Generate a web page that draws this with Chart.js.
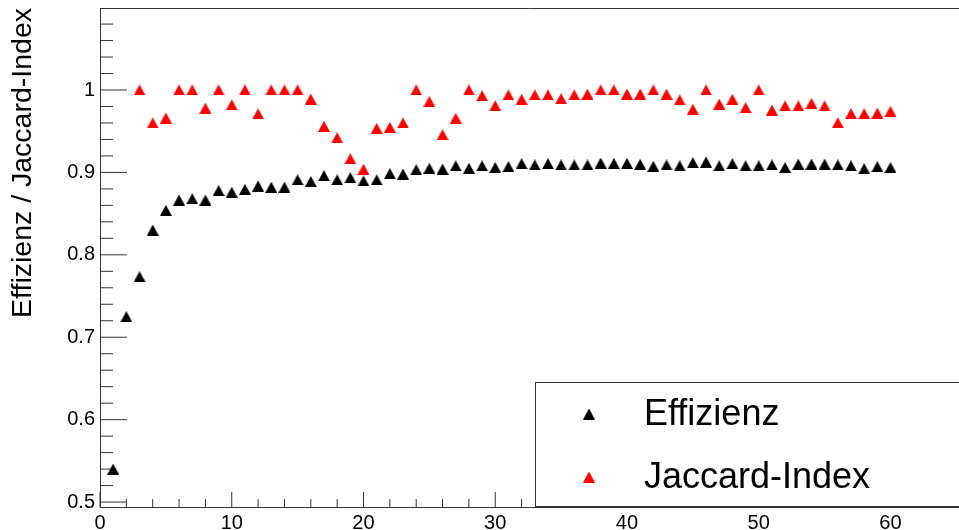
<!DOCTYPE html>
<html>
<head>
<meta charset="utf-8">
<script src="https://cdn.jsdelivr.net/npm/chart.js@4.4.1/dist/chart.umd.min.js"></script>
<style>
    html, body { margin: 0; padding: 0; background: #fff; }
    #plot { display: block; }
</style>
</head>
<body>
<canvas id="plot" width="959" height="530"></canvas>
<script>
// run number 1..60
const runs = [
    1, 2, 3, 4, 5, 6, 7, 8, 9, 10, 11, 12, 13, 14, 15, 16, 17, 18, 19, 20,
    21, 22, 23, 24, 25, 26, 27, 28, 29, 30, 31, 32, 33, 34, 35, 36, 37, 38, 39, 40,
    41, 42, 43, 44, 45, 46, 47, 48, 49, 50, 51, 52, 53, 54, 55, 56, 57, 58, 59, 60
];
const effizienz = [
    0.540, 0.725, 0.7735, 0.830, 0.854, 0.8665, 0.868, 0.8665, 0.878, 0.876,
    0.8795, 0.8835, 0.882, 0.882, 0.891, 0.889, 0.896, 0.891, 0.8936, 0.8896,
    0.891, 0.8985, 0.898, 0.9033, 0.905, 0.904, 0.908, 0.905, 0.908, 0.906,
    0.907, 0.9106, 0.909, 0.9106, 0.909, 0.909, 0.909, 0.9114, 0.911, 0.911,
    0.9098, 0.9074, 0.909, 0.908, 0.9118, 0.9126, 0.908, 0.9106, 0.908, 0.908,
    0.909, 0.906, 0.910, 0.910, 0.910, 0.909, 0.908, 0.9045, 0.907, 0.906
];
const jaccard = [
    null, null, 1.0, 0.960, 0.966, 1.0, 1.0, 0.978, 1.0, 0.982,
    1.0, 0.971, 1.0, 1.0, 1.0, 0.989, 0.956, 0.942, 0.9166, 0.9038,
    0.9535, 0.9547, 0.960, 1.0, 0.986, 0.9458, 0.9656, 1.0, 0.993, 0.981,
    0.994, 0.9887, 0.994, 0.994, 0.9895, 0.994, 0.995, 1.0, 1.0, 0.995,
    0.995, 1.0, 0.995, 0.988, 0.9766, 1.0, 0.983, 0.9887, 0.9786, 1.0,
    0.9757, 0.9806, 0.9806, 0.9838, 0.9806, 0.9603, 0.9713, 0.9713, 0.972, 0.974
];
const seriesNames = ['Effizienz', 'Jaccard-Index'];
const seriesColors = ['#000000', '#ff0000'];
const xTicks = [0, 10, 20, 30, 40, 50, 60];
const yTicks = [0.5, 0.6, 0.7, 0.8, 0.9, 1];
const yTitle = 'Effizienz / Jaccard-Index';

const FONT = "'Liberation Sans', Arial, Helvetica, sans-serif";
Chart.defaults.font.family = FONT;
Chart.defaults.color = '#000';

// filled up-triangle marker, centred on its bounding box
function triangle(color) {
    const c = document.createElement('canvas');
    c.width = 12; c.height = 11;
    const g = c.getContext('2d');
    g.fillStyle = color;
    g.beginPath();
    g.moveTo(6, 0);
    g.lineTo(12, 11);
    g.lineTo(0, 11);
    g.closePath();
    g.fill();
    return c;
}

function points(values) {
    return runs.map((r, i) => ({ x: r, y: values[i] }));
}

const keepTicks = list => scale => {
    scale.ticks = list.map(v => ({ value: v }));
};

// top frame edge plus inward ticks (minor every 2 / 0.02)
const frame = {
    id: 'frame',
    beforeDatasetsDraw(chart) {
        const { ctx, chartArea: a, scales: { x, y } } = chart;
        ctx.save();
        ctx.strokeStyle = '#333';
        ctx.lineWidth = 1;
        ctx.beginPath();
        ctx.moveTo(a.left, a.top + 0.5);
        ctx.lineTo(a.right, a.top + 0.5);
        for (let k = 25; k < 55; k++) {
            const py = y.getPixelForValue(k / 50);
            if (py < a.top) break;
            const len = k % 5 === 0 ? 27 : 13;
            ctx.moveTo(a.left, py);
            ctx.lineTo(a.left + len, py);
        }
        for (let k = 0; k <= 32; k++) {
            const px = x.getPixelForValue(k * 2);
            if (px > a.right) break;
            const len = k % 5 === 0 ? 15 : 8;
            ctx.moveTo(px, a.bottom);
            ctx.lineTo(px, a.bottom - len);
        }
        ctx.stroke();
        ctx.restore();
    }
};

// boxed legend in the lower right corner
const legendBox = {
    id: 'legendBox',
    afterDatasetsDraw(chart) {
        const { ctx, chartArea: a } = chart;
        const left = 535.5, top = 382.5;
        ctx.save();
        ctx.fillStyle = '#fff';
        ctx.fillRect(left, top, a.right - left + 5, a.bottom - top);
        ctx.strokeStyle = '#333';
        ctx.lineWidth = 1;
        ctx.strokeRect(left, top, a.right - left + 5, a.bottom - top - 0.5);
        ctx.font = '36px ' + FONT;
        ctx.textBaseline = 'middle';
        ctx.fillStyle = '#000';
        chart.data.datasets.forEach((ds, i) => {
            const cy = 414 + i * 63;
            ctx.drawImage(ds.pointStyle, 589 - 6, cy - 5.5);
            ctx.fillText(ds.label, 644, cy + 1);
        });
        ctx.restore();
    }
};

new Chart(document.getElementById('plot'), {
    type: 'scatter',
    data: {
        datasets: [
            { label: seriesNames[0], data: points(effizienz), pointStyle: triangle(seriesColors[0]),
              backgroundColor: seriesColors[0], pointRadius: 6 },
            { label: seriesNames[1], data: points(jaccard), pointStyle: triangle(seriesColors[1]),
              backgroundColor: seriesColors[1], pointRadius: 6 }
        ]
    },
    options: {
        responsive: false,
        animation: false,
        events: [],
        devicePixelRatio: 1,
        layout: { autoPadding: false, padding: { top: 8, right: 0, bottom: 0, left: 0 } },
        plugins: { legend: { display: false }, tooltip: { enabled: false } },
        scales: {
            x: {
                type: 'linear',
                min: 0,
                max: 65.2,
                grid: { display: false, drawTicks: false },
                border: { display: true, color: '#333', width: 1 },
                afterBuildTicks: keepTicks(xTicks),
                afterFit(scale) {
                    scale.height = 23;
                    scale.paddingLeft = 0; scale.paddingRight = 0;
                },
                ticks: {
                    autoSkip: false, maxRotation: 0, padding: 4,
                    font: { size: 20 }, color: '#000',
                    callback: v => String(v)
                }
            },
            y: {
                type: 'linear',
                min: 0.494,
                max: 1.0995,
                grid: { display: false, drawTicks: false },
                border: { display: true, color: '#333', width: 1 },
                afterBuildTicks: keepTicks(yTicks),
                afterFit(scale) {
                    scale.width = 100;
                    scale.paddingTop = 0; scale.paddingBottom = 0;
                },
                ticks: {
                    autoSkip: false, padding: 5,
                    font: { size: 20 }, color: '#000',
                    callback: v => String(+v.toFixed(2))
                },
                title: {
                    display: true, text: yTitle, align: 'end',
                    font: { size: 28.5 }, color: '#000',
                    padding: { top: 6, bottom: 0 }
                }
            }
        }
    },
    plugins: [frame, legendBox]
});
</script>
</body>
</html>
